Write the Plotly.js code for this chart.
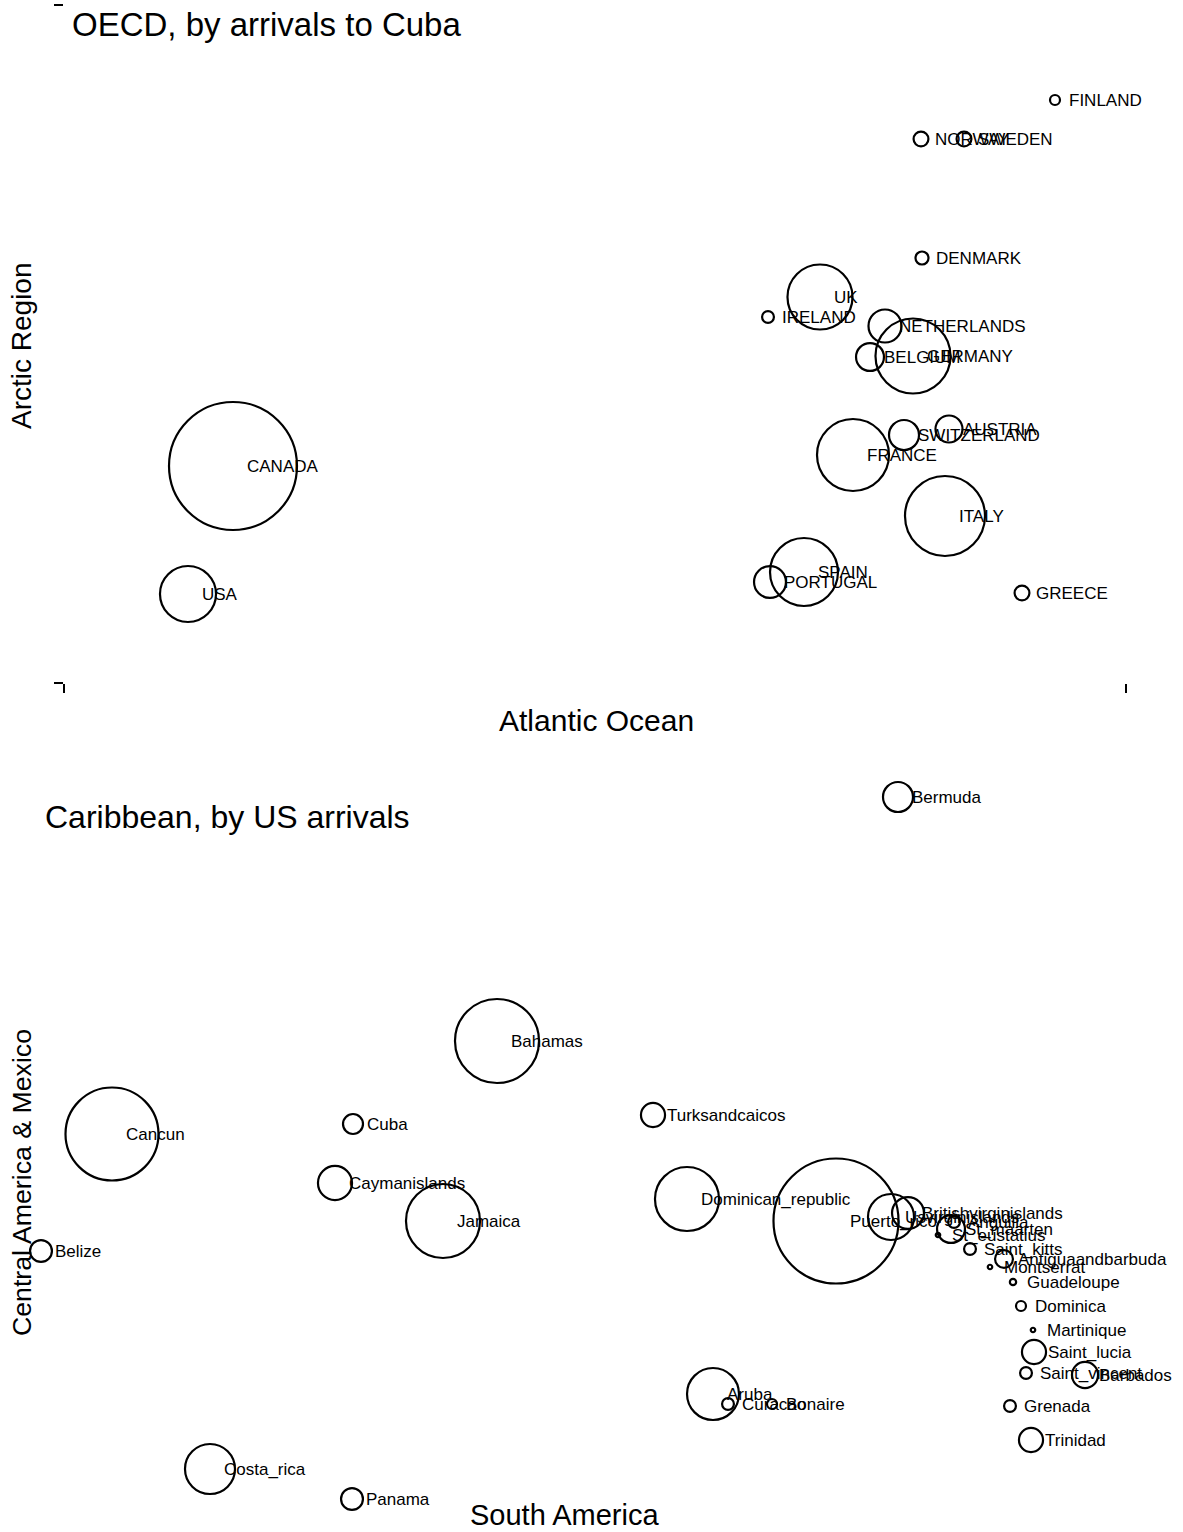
<!DOCTYPE html>
<html>
<head>
<meta charset="utf-8">
<script src="https://cdn.plot.ly/plotly-3.0.1.min.js"></script>
<style>html,body{margin:0;padding:0;background:#fff;}#chart{width:1183px;height:1532px;}</style>
</head>
<body>
<div id="chart"></div>
<script>
// ---- Top panel: OECD countries, marker area ~ arrivals to Cuba ----
const oecdNames = ["CANADA","USA","UK","IRELAND","NETHERLANDS","GERMANY","BELGIUM","DENMARK","NORWAY","SWEDEN","FINLAND","AUSTRIA","SWITZERLAND","FRANCE","ITALY","SPAIN","PORTUGAL","GREECE"];
const oecdX = [169,124,756,704,821,849,806,858,857,900,991,885,840,789,881,740,706,958];
const oecdY = [217,89,386,366,357,327,326,425,544,544,583,254,248,228,167,111,101,90];
const oecdArrivals = [1638,314,423,14,109,563,78,17,22,22,10,73,90,518,640,462,102,22];

// ---- Bottom panel: Caribbean destinations, marker area ~ US arrivals ----
const caribNames = ["Bermuda","Bahamas","Cancun","Cuba","Turksandcaicos","Caymanislands","Jamaica","Dominican_republic","Puerto_rico","Usvirginislands","Britishvirginislands","Anguilla","St_maarten","St_eustatius","Saint_kitts","Antiguaandbarbuda","Montserrat","Guadeloupe","Dominica","Martinique","Saint_lucia","Saint_vincent","Barbados","Grenada","Trinidad","Aruba","Curacao","Bonaire","Costa_rica","Panama","Belize"];
const caribX = [898,497,112,353,653,335,443,687,836,891,908,954,951,938,970,1004,990,1013,1021,1033,1034,1026,1085,1010,1031,713,728,772,210,352,41];
const caribY = [735,491,398,408,417,349,311,333,311,315,319,310,303,297,283,273,265,250,226,202,180,159,157,126,92,138,128,128,63,33,281];
const caribArrivals = [90,706,865,40,58,116,548,410,1563,212,102,14,78,2,14,32,2,4,10,2,58,14,68,14,58,270,14,10,250,48,48];

const panelTitles = ["OECD, by arrivals to Cuba","Caribbean, by US arrivals"];
const axisTitles = ["Arctic Region","Atlantic Ocean","Central America & Mexico","South America"];

const FONT = "Liberation Sans, Arial, Helvetica, sans-serif";
const W = 1183, H = 1532;

function markerTrace(x, y, v, xa, ya) {
  return {
    type: "scatter", mode: "markers", x: x, y: y, xaxis: xa, yaxis: ya,
    cliponaxis: false, hoverinfo: "skip",
    marker: {symbol: "circle-open", size: v, sizemode: "area", sizeref: 0.2, opacity: 1,
             color: "#000", line: {width: 2.2, color: "#000"}}
  };
}

const traces = [
  markerTrace(oecdX, oecdY, oecdArrivals, "x", "y"),
  markerTrace(caribX, caribY, caribArrivals, "x2", "y2")
];

const annotations = [];
function addLabels(names, xs, ys, xr, yr) {
  names.forEach((n, i) => annotations.push({
    text: n, x: xs[i], y: ys[i], xref: xr, yref: yr,
    xanchor: "left", yanchor: "middle", xshift: 12, showarrow: false,
    font: {family: FONT, size: 17, color: "#000"}
  }));
}
addLabels(oecdNames, oecdX, oecdY, "x", "y");
addLabels(caribNames, caribX, caribY, "x2", "y2");

function paperText(t, px, py, size, anchor, rot) {
  annotations.push({
    text: t, x: px / W, y: 1 - py / H, xref: "paper", yref: "paper",
    xanchor: anchor, yanchor: "middle", showarrow: false, textangle: rot || 0,
    font: {family: FONT, size: size, color: "#000"}
  });
}
paperText(panelTitles[0], 70, 25, 33, "left");
paperText(panelTitles[1], 43, 817, 32, "left");
paperText(axisTitles[0], 22, 346, 28, "center", -90);
paperText(axisTitles[1], 596, 720, 30, "center");
paperText(axisTitles[2], 22, 1183, 26.7, "center", -90);
paperText(axisTitles[3], 564, 1515, 29, "center");

const topAxisX = {domain: [64 / W, 1126 / W], range: [0, 1062], showgrid: false, zeroline: false,
  showline: false, showticklabels: false, ticks: "outside", tickvals: [0, 1062], ticklen: 9,
  tickwidth: 1.5, tickcolor: "#000", fixedrange: true, anchor: "y"};
const topAxisY = {domain: [1 - 683 / H, 1 - 5 / H], range: [0, 678], showgrid: false, zeroline: false,
  showline: false, showticklabels: false, ticks: "outside", tickvals: [0, 678], ticklen: 9,
  tickwidth: 1.5, tickcolor: "#000", fixedrange: true, anchor: "x"};
const botAxisX = {domain: [0, 1], range: [0, 1183], showgrid: false, zeroline: false, showline: false,
  showticklabels: false, ticks: "", fixedrange: true, anchor: "y2"};
const botAxisY = {domain: [0, 772 / H], range: [0, 772], showgrid: false, zeroline: false, showline: false,
  showticklabels: false, ticks: "", fixedrange: true, anchor: "x2"};

const layout = {
  width: W, height: H, margin: {l: 0, r: 0, t: 0, b: 0},
  paper_bgcolor: "#fff", plot_bgcolor: "rgba(0,0,0,0)", showlegend: false, hovermode: false,
  xaxis: topAxisX, yaxis: topAxisY, xaxis2: botAxisX, yaxis2: botAxisY,
  annotations: annotations, font: {family: FONT, color: "#000"}
};

Plotly.newPlot("chart", traces, layout, {staticPlot: true, displayModeBar: false});
</script>
</body>
</html>
